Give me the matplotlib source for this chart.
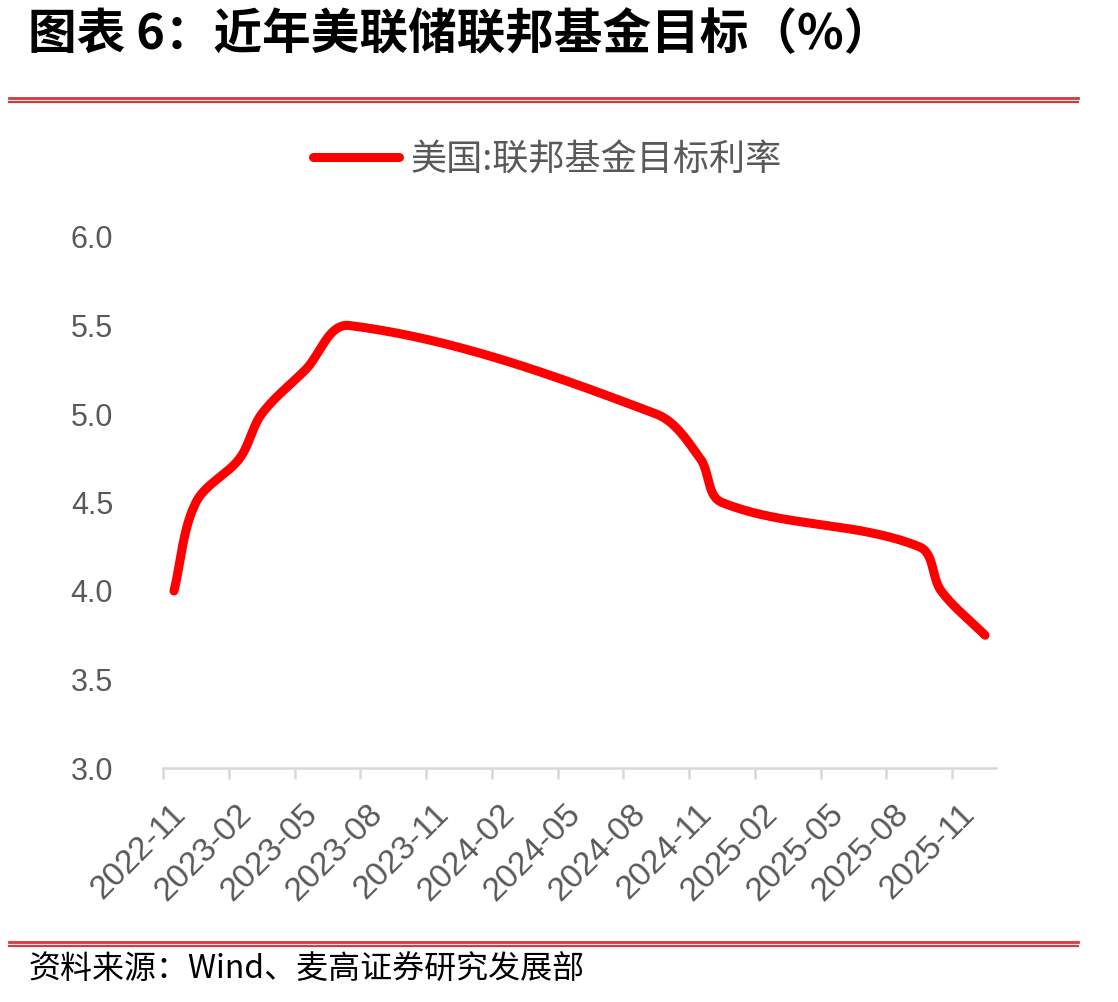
import numpy as np
import matplotlib
matplotlib.use("Agg")
import matplotlib.pyplot as plt
from matplotlib.lines import Line2D
from matplotlib.transforms import ScaledTranslation

plt.rcParams['font.family'] = ['Noto Sans CJK SC', 'DejaVu Sans']

# months in which the target rate changed, and the level (upper bound, %)
months = ["2022-11", "2022-12", "2023-02", "2023-03", "2023-05", "2023-07",
          "2024-09", "2024-11", "2024-12", "2025-09", "2025-10", "2025-12"]
rates = [4.00, 4.50, 4.75, 5.00, 5.25, 5.50,
         5.00, 4.75, 4.50, 4.25, 4.00, 3.75]
tick_labels = ["2022-11", "2023-02", "2023-05", "2023-08", "2023-11", "2024-02",
               "2024-05", "2024-08", "2024-11", "2025-02", "2025-05", "2025-08", "2025-11"]
y_ticks = [3.0, 3.5, 4.0, 4.5, 5.0, 5.5, 6.0]
legend_label = "美国:联邦基金目标利率"


def month_index(s):
    y, m = s.split("-")
    return (int(y) - 2022) * 12 + int(m) - 11


# date axis in months, points sit in the middle of their month
x = np.array([month_index(m) + 0.5 for m in months])
y = np.array(rates)

W, H = 1118, 1002
fig = plt.figure(figsize=(W / 100, H / 100), dpi=100)
ax_l, ax_r, ax_t, ax_b = 163, 996, 237, 768
ax = fig.add_axes([ax_l / W, 1 - ax_b / H, (ax_r - ax_l) / W, (ax_b - ax_t) / H])
ax.set_xlim(0, 38)
ax.set_ylim(3, 6)

# smoothed line (bezier, tangents scaled to each segment, in screen space)
sx = (ax_r - ax_l) / 38.0
sy = (ax_b - ax_t) / 3.0
P = np.column_stack([x * sx, y * sy])
n = len(P)
T = []
for i in range(n):
    d = P[min(i + 1, n - 1)] - P[max(i - 1, 0)]
    T.append(d / np.hypot(*d))
xs, ys = [], []
t = np.linspace(0, 1, 40)[:, None]
for i in range(n - 1):
    p1, p2 = P[i], P[i + 1]
    L = np.hypot(*(p2 - p1)) / 3
    c1 = p1 + T[i] * L
    c2 = p2 - T[i + 1] * L
    seg = (1 - t) ** 3 * p1 + 3 * (1 - t) ** 2 * t * c1 + 3 * (1 - t) * t ** 2 * c2 + t ** 3 * p2
    xs.extend(seg[:, 0] / sx)
    ys.extend(seg[:, 1] / sy)
ax.plot(xs, ys, color="#FF0000", lw=6.5, solid_capstyle="round", solid_joinstyle="round")

for s in ["left", "right", "top"]:
    ax.spines[s].set_visible(False)
ax.spines["bottom"].set_color("#d9d9d9")
ax.spines["bottom"].set_linewidth(1.8)

ax.set_yticks(y_ticks)
ax.set_yticklabels([f"{v:.1f}" for v in y_ticks], fontsize=22, color="#595959",
                   family=["Liberation Sans", "DejaVu Sans"])
ax.tick_params(axis="y", length=0, pad=36)

ax.set_xticks([month_index(m) for m in tick_labels])
ax.set_xticklabels(tick_labels, rotation=45, ha="right", va="center",
                   rotation_mode="anchor", fontsize=24, color="#595959",
                   family=["Liberation Sans", "DejaVu Sans"])
ax.tick_params(axis="x", length=8, width=1.8, color="#d9d9d9", pad=22)
shift = ScaledTranslation(18 / 100, 0, fig.dpi_scale_trans)
for lab in ax.get_xticklabels():
    lab.set_transform(lab.get_transform() + shift)

handle = Line2D([], [], color="#FF0000", lw=6.5, solid_capstyle="round")
fig.legend([handle], [legend_label], loc="center", bbox_to_anchor=(547 / W, 1 - 160 / H),
           frameon=False, fontsize=26, handlelength=2.4, handletextpad=0.3,
           labelcolor="#595959")

# header and footer
fig.text(28 / W, 1 - 35 / H, "图表 6：近年美联储联邦基金目标（%）", fontsize=35,
         fontweight="bold", va="center", ha="left", color="black")
for yy, lw in [(97.5, 2.0), (101.5, 1.6)]:
    fig.add_artist(Line2D([9 / W, 1078 / W], [1 - yy / H] * 2, color="#d9363e", lw=lw))
for yy, lw in [(942, 2.0), (946, 1.6)]:
    fig.add_artist(Line2D([9 / W, 1078 / W], [1 - yy / H] * 2, color="#d9363e", lw=lw))
fig.text(28 / W, 1 - 970 / H, "资料来源：Wind、麦高证券研究发展部", fontsize=23,
         va="center", ha="left", color="black")

fig.savefig("out.png", dpi=100)
